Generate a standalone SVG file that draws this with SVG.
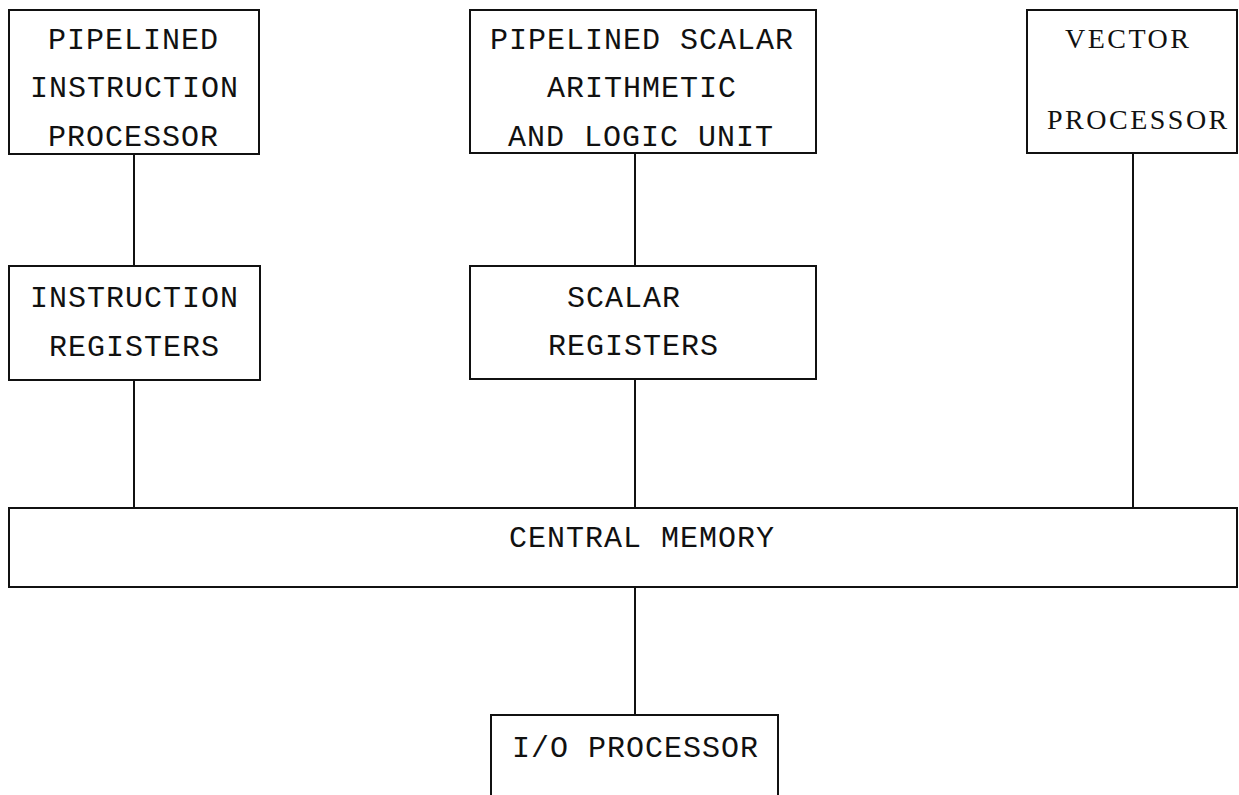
<svg xmlns="http://www.w3.org/2000/svg" width="1239" height="795" viewBox="0 0 1239 795">
<style>
rect.box{fill:#fff;stroke:#111;stroke-width:2}
.conn line{stroke:#111;stroke-width:2}
text{font-family:"Liberation Mono","Courier New",monospace;font-size:30px;letter-spacing:1px;fill:#111}
text.serif{font-family:"Liberation Serif","Times New Roman",serif;font-size:28px;letter-spacing:2.5px}
</style>
<rect width="1239" height="795" fill="#fff"/>
<g class="conn" id="connectors">
<line x1="134" y1="154" x2="134" y2="266"/>
<line x1="134" y1="380" x2="134" y2="508"/>
<line x1="635" y1="153" x2="635" y2="266"/>
<line x1="635" y1="379" x2="635" y2="508"/>
<line x1="1133" y1="153" x2="1133" y2="508"/>
<line x1="635" y1="587" x2="635" y2="715"/>
</g>
<g id="pipelined-instruction-processor">
<rect class="box" x="9" y="10" width="250" height="144"/>
<text x="48" y="49">PIPELINED</text>
<text x="30" y="97">INSTRUCTION</text>
<text x="48" y="146">PROCESSOR</text>
</g>
<g id="instruction-registers">
<rect class="box" x="9" y="266" width="251" height="114"/>
<text x="30" y="307">INSTRUCTION</text>
<text x="49" y="356">REGISTERS</text>
</g>
<g id="pipelined-scalar-alu">
<rect class="box" x="470" y="10" width="346" height="143"/>
<text x="490" y="49">PIPELINED SCALAR</text>
<text x="547" y="97">ARITHMETIC</text>
<text x="508" y="146">AND LOGIC UNIT</text>
</g>
<g id="scalar-registers">
<rect class="box" x="470" y="266" width="346" height="113"/>
<text x="567" y="307">SCALAR</text>
<text x="548" y="355">REGISTERS</text>
</g>
<g id="vector-processor">
<rect class="box" x="1027" y="10" width="210" height="143"/>
<text class="serif" x="1065" y="48">VECTOR</text>
<text class="serif" x="1047" y="129">PROCESSOR</text>
</g>
<g id="central-memory">
<rect class="box" x="9" y="508" width="1228" height="79"/>
<text x="509" y="547">CENTRAL MEMORY</text>
</g>
<g id="io-processor">
<path d="M491 796 V715 H778 V796" fill="#fff" stroke="#111" stroke-width="2"/>
<text x="512" y="757">I/O PROCESSOR</text>
</g>
</svg>
